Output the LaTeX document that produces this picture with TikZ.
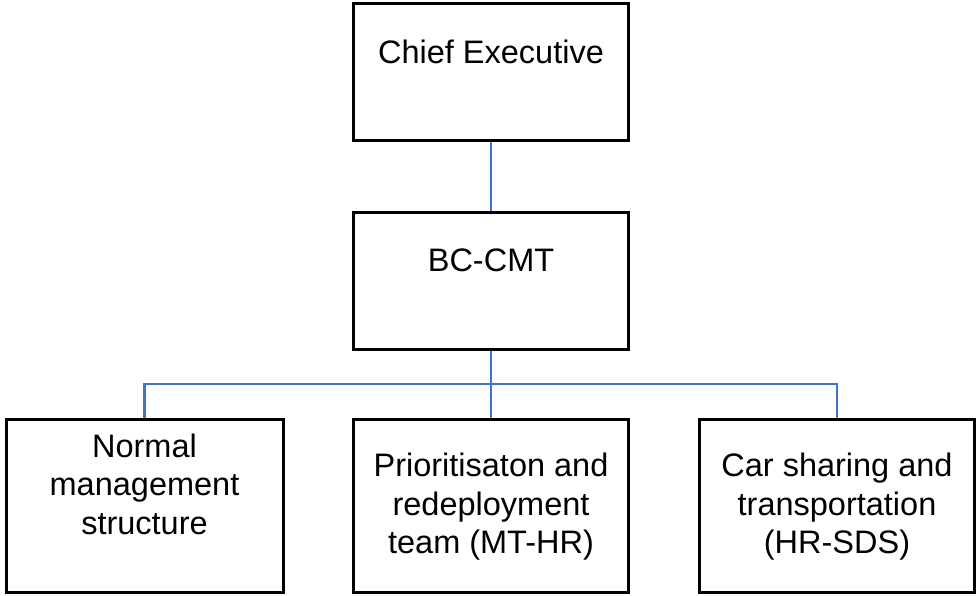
\documentclass[tikz,border=0pt]{standalone}
\usepackage{fontspec}
\setmainfont{Liberation Sans}
\definecolor{linkblue}{HTML}{4472C4}
\begin{document}
\begin{tikzpicture}[x=1pt,y=-1pt,
  box/.style={draw=black, line width=3pt, minimum width=275pt, inner sep=0pt},
  txt/.style={anchor=base, inner sep=0pt, font=\fontsize{32.5}{38.5}\selectfont},
  link/.style={draw=linkblue, line width=2.6pt}]
\useasboundingbox[fill=white] (0,0) rectangle (976,595);
% boxes
\node[box, minimum height=137.5pt] (ce) at (491,71.75) {};
\node[box, minimum height=137pt] (bc) at (491,280.5) {};
\node[box, minimum width=277pt, minimum height=173pt] (nm) at (144.5,505.5) {};
\node[box, minimum height=173pt] (pr) at (491,505.5) {};
\node[box, minimum width=275.5pt, minimum height=173pt] (cs) at (837,505.5) {};
% texts
\node[txt] (ce1) at (491,63) {Chief Executive};
\node[txt] (bc1) at (491,271) {BC-CMT};
\node[txt] (nm1) at (144.5,457.3) {Normal};
\node[txt] (nm2) at (144.5,495.8) {management};
\node[txt] (nm3) at (144.5,534.3) {structure};
\node[txt] (pr1) at (491,476.5) {Prioritisaton and};
\node[txt] (pr2) at (491,515) {redeployment};
\node[txt] (pr3) at (491,553.5) {team (MT-HR)};
\node[txt] (cs1) at (837,476.5) {Car sharing and};
\node[txt] (cs2) at (837,515) {transportation};
\node[txt] (cs3) at (837,553.5) {(HR-SDS)};
% connectors
\coordinate (hub) at (491,384);
\draw[link] (ce.south) -- (bc.north);
\draw[link] (bc.south) -- (hub);
\draw[link] (nm.north) |- (hub) -| (cs.north);
\draw[link] (hub) -- (pr.north);
\end{tikzpicture}
\end{document}
